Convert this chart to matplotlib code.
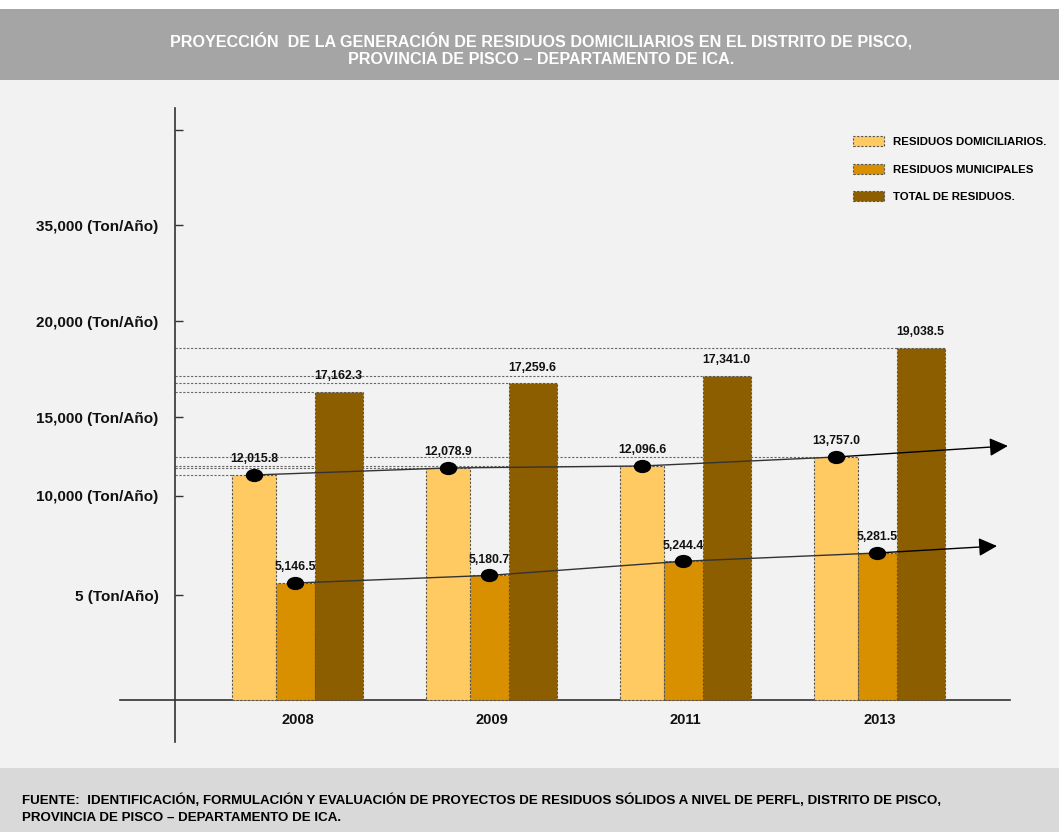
import numpy as np
import matplotlib.pyplot as plt
from matplotlib.patches import Rectangle, Patch
from matplotlib.path import Path
from matplotlib.transforms import Affine2D

years = ['2008', '2009', '2011', '2013']
domiciliarios = [12015.8, 12078.9, 12096.6, 13757.0]
municipales = [5146.5, 5180.7, 5244.4, 5281.5]
total = [17162.3, 17259.6, 17341.0, 19038.5]
series_names = ['RESIDUOS DOMICILIARIOS.', 'RESIDUOS MUNICIPALES', 'TOTAL DE RESIDUOS.']
tick_values = [5000, 10000, 15000, 20000, 35000, 50000]
tick_labels = ['5 (Ton/Año)', '10,000 (Ton/Año)', '15,000 (Ton/Año)',
               '20,000 (Ton/Año)', '35,000 (Ton/Año)', '']

# broken value axis: tonnes -> drawn height
axis_values = [-10000, 0, 5000, 5146.5, 5281.5, 10000, 12015.8, 12096.6, 13757,
               15000, 17162.3, 17341, 19038.5, 20000, 35000, 50000, 100000]
axis_heights = [-210, 0, 105, 117, 147, 204, 225, 234, 243,
                283, 308, 324, 352, 379, 475, 570, 887]


def fwd(v):
    return np.interp(v, axis_values, axis_heights)


def inv(h):
    return np.interp(h, axis_heights, axis_values)


colors = ['#ffca62', '#d88f00', '#8d5e00']
widths = [0.227, 0.2, 0.247]
group_left = -0.338
edge_kw = dict(edgecolor='#555555', linewidth=0.8, linestyle=(0, (2, 1.5)))
bold = dict(family=['Liberation Sans', 'DejaVu Sans'], fontweight='bold')

fig = plt.figure(figsize=(10.59, 8.32), dpi=100, facecolor='#f2f2f2')

# header and footer bands
fig.patches.append(Rectangle((0, 1 - 9 / 832), 1, 9 / 832, transform=fig.transFigure,
                             facecolor='white', edgecolor='none', zorder=0))
fig.patches.append(Rectangle((0, 1 - 80 / 832), 1, 71 / 832, transform=fig.transFigure,
                             facecolor='#a5a5a5', edgecolor='none', zorder=0))
fig.patches.append(Rectangle((0, 0), 1, 64 / 832, transform=fig.transFigure,
                             facecolor='#d9d9d9', edgecolor='none', zorder=0))
fig.text(0.511, 1 - 41 / 832,
         'PROYECCIÓN  DE LA GENERACIÓN DE RESIDUOS DOMICILIARIOS EN EL DISTRITO DE PISCO,',
         ha='center', va='center', color='white', fontsize=11.6, **bold)
fig.text(0.511, 1 - 60 / 832, 'PROVINCIA DE PISCO – DEPARTAMENTO DE ICA.',
         ha='center', va='center', color='white', fontsize=11.6, **bold)
fig.text(22 / 1059, 1 - 800 / 832,
         'FUENTE:  IDENTIFICACIÓN, FORMULACIÓN Y EVALUACIÓN DE PROYECTOS DE RESIDUOS '
         'SÓLIDOS A NIVEL DE PERFL, DISTRITO DE PISCO,',
         ha='left', va='center', color='black', fontsize=9.6, **bold)
fig.text(22 / 1059, 1 - 818 / 832, 'PROVINCIA DE PISCO – DEPARTAMENTO DE ICA.',
         ha='left', va='center', color='black', fontsize=9.6, **bold)

ax = fig.add_axes([120 / 1059, 90 / 832, 890 / 1059, 634 / 832])
ax.set_facecolor('none')
ax.set_yscale('function', functions=(fwd, inv))
ax.set_xlim(-0.915, 3.673)
ax.set_ylim(inv(-42), inv(592))
spine_x = -0.631

x = np.arange(len(years))
series = [domiciliarios, municipales, total]
lefts = []
left = group_left
for vals, w, c in zip(series, widths, colors):
    lefts.append(left)
    ax.bar(x + left, vals, width=w, align='edge', color=c, zorder=3, **edge_kw)
    left += w

# guide lines from the axis to the top of the bars
for k in (0, 2):
    ax.hlines(series[k], spine_x, x + lefts[k], colors='#666666', linewidth=0.8,
              linestyles=(0, (2, 1.5)), zorder=1)

# value labels
for k, vals in enumerate(series):
    cx = x + lefts[k] + widths[k] / 2
    for xi, v in zip(cx, vals):
        ax.annotate(f'{v:,.1f}', (xi, v), xytext=(0, 7), textcoords='offset points',
                    ha='center', va='bottom', fontsize=8.8, color='#111111', zorder=6, **bold)

# trend lines with arrows
ellipse = Path.unit_circle().transformed(Affine2D().scale(1.35, 1.0))
arrow_ends = [(3.662, 14100), (3.606, 5860)]
for k, end in zip((0, 1), arrow_ends):
    cx = x + lefts[k] + widths[k] / 2
    ax.plot(cx, series[k], color='#333333', linewidth=1, zorder=4)
    ax.plot(cx, series[k], linestyle='none', marker=ellipse, markersize=11.5,
            color='black', zorder=5)
    ax.annotate('', xy=end, xytext=(cx[-1], series[k][-1]),
                arrowprops=dict(arrowstyle='-|>', mutation_scale=28, color='black',
                                linewidth=1, shrinkA=0, shrinkB=0), zorder=4)

# axes styling
for s in ('top', 'right'):
    ax.spines[s].set_visible(False)
ax.spines['left'].set_position(('data', spine_x))
ax.spines['bottom'].set_position(('data', 0))
for s in ('left', 'bottom'):
    ax.spines[s].set_color('#333333')
    ax.spines[s].set_linewidth(1.2)
ax.set_yticks(tick_values)
ax.set_yticklabels(tick_labels)
ax.yaxis.set_minor_locator(plt.NullLocator())
ax.tick_params(axis='y', direction='in', length=6, width=1, pad=12, colors='#333333',
               labelcolor='#111111')
for t in ax.get_yticklabels():
    t.set_fontsize(11)
    t.set_fontweight('bold')
    t.set_family(['Liberation Sans', 'DejaVu Sans'])
ax.set_xticks(x)
ax.set_xticklabels(years)
ax.tick_params(axis='x', length=0, pad=9, labelcolor='#111111')
for t in ax.get_xticklabels():
    t.set_fontsize(10.5)
    t.set_fontweight('bold')
    t.set_family(['Liberation Sans', 'DejaVu Sans'])

handles = [Patch(facecolor=c, label=n, **edge_kw) for c, n in zip(colors, series_names)]
leg = ax.legend(handles=handles, loc='upper left', bbox_to_anchor=(853 / 1059, 1 - 136 / 832),
                bbox_transform=fig.transFigure, frameon=False, borderaxespad=0, borderpad=0,
                handlelength=2.7, handleheight=1.0, labelspacing=1.45, handletextpad=0.8,
                prop={'family': ['Liberation Sans', 'DejaVu Sans'], 'weight': 'bold', 'size': 8.2})

fig.savefig('out.png', dpi=100, facecolor=fig.get_facecolor())
